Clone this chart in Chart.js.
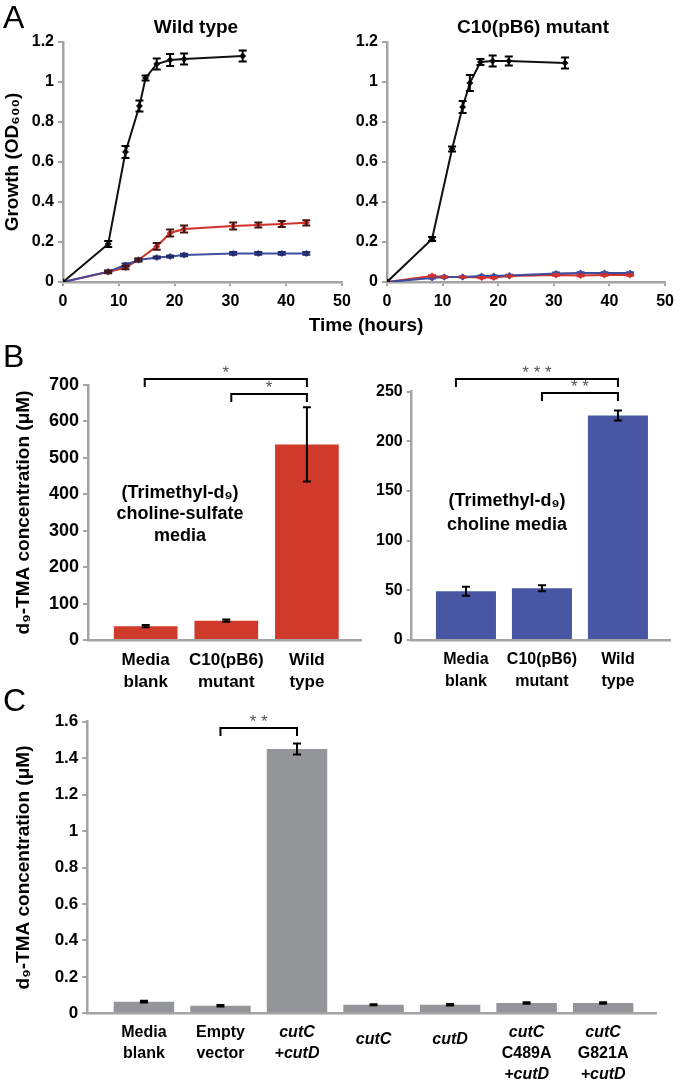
<!DOCTYPE html>
<html>
<head>
<meta charset="utf-8">
<script src="https://cdn.jsdelivr.net/npm/chart.js@4.4.0/dist/chart.umd.min.js"></script>
<style>
body { margin: 0; background: #fff; }
#wrap { position: relative; width: 680px; height: 1082px; background: #fff; }
#wrap canvas { position: absolute; left: 0; top: 0; }
</style>
</head>
<body>
<div id="wrap">
  <canvas id="growthWT" width="680" height="1082"></canvas>
  <canvas id="growthMut" width="680" height="1082"></canvas>
  <canvas id="sulfateBars" width="680" height="1082"></canvas>
  <canvas id="cholineBars" width="680" height="1082"></canvas>
  <canvas id="geneBars" width="680" height="1082"></canvas>
</div>
<script>
// A: growth, time in hours, OD600
const wtTimeBlack = [0, 8.1, 11.2, 13.7, 14.8, 16.8, 19.2, 21.7, 32.2];
const wtBlack = [0, 0.19, 0.65, 0.88, 1.02, 1.09, 1.11, 1.115, 1.13];
const wtBlackErr = [0, 0.015, 0.03, 0.027, 0.012, 0.027, 0.03, 0.027, 0.027];
const wtTime = [0, 8.1, 11.2, 13.5, 16.8, 19.2, 21.7, 30.5, 35, 39.2, 43.6];
const wtRed = [0, 0.05, 0.072, 0.11, 0.178, 0.245, 0.265, 0.28, 0.285, 0.29, 0.296];
const wtRedErr = [0, 0.006, 0.008, 0.008, 0.017, 0.017, 0.017, 0.017, 0.013, 0.015, 0.013];
const wtBlue = [0, 0.052, 0.085, 0.11, 0.122, 0.128, 0.135, 0.143, 0.143, 0.143, 0.143];
const wtBlueErr = [0, 0.005, 0.007, 0.006, 0.005, 0.005, 0.006, 0.007, 0.007, 0.007, 0.007];

const mutTimeBlack = [0, 8.1, 11.7, 13.6, 14.9, 16.8, 19.0, 21.9, 32];
const mutBlack = [0, 0.215, 0.665, 0.875, 0.995, 1.1, 1.105, 1.105, 1.095];
const mutBlackErr = [0, 0.01, 0.013, 0.03, 0.04, 0.015, 0.027, 0.022, 0.027];
const mutTime = [0, 8.1, 10.3, 13.6, 17, 19.2, 22, 30.4, 34.8, 39.1, 43.7];
const mutRed = [0, 0.03, 0.025, 0.025, 0.022, 0.022, 0.03, 0.035, 0.033, 0.035, 0.035];
const mutRedErr = [0, 0.004, 0.003, 0.003, 0.003, 0.003, 0.003, 0.004, 0.004, 0.004, 0.004];
const mutBlue = [0, 0.02, 0.025, 0.025, 0.03, 0.03, 0.033, 0.043, 0.045, 0.045, 0.045];
const mutBlueErr = [0, 0.003, 0.003, 0.003, 0.003, 0.003, 0.003, 0.004, 0.004, 0.004, 0.004];

// B: d9-TMA (uM)
const bCategories = [['Media', 'blank'], ['C10(pB6)', 'mutant'], ['Wild', 'type']];
const sulfateTMA = [38, 53, 537];
const sulfateTMAErr = [3, 3, 102];
const sulfateSig = [[0, 2, '*'], [1, 2, '*']];
const cholineTMA = [49, 52, 226];
const cholineTMAErr = [4.5, 3, 5];
const cholineSig = [[0, 2, '* * *'], [1, 2, '* *']];

// C: d9-TMA (uM)
const cCategories = [['Media', 'blank'], ['Empty', 'vector'], ['cutC', '+cutD'], ['cutC'], ['cutD'],
  ['cutC', 'C489A', '+cutD'], ['cutC', 'G821A', '+cutD']];
const geneTMA = [0.064, 0.041, 1.45, 0.047, 0.047, 0.056, 0.056];
const geneTMAErr = [0.005, 0.004, 0.03, 0.003, 0.004, 0.004, 0.004];
const geneSig = [[1, 2, '* *']];

const FONT = '"Liberation Sans", Arial, "DejaVu Sans", sans-serif';
const GREY = '#a4a4a4';
const BLACK = '#111111', RED = '#d2302b', BLUE = '#3d4d9f';

function fmt(v) { return String(Number(v.toFixed(2))); }

const errorBars = {
  id: 'errorBars',
  afterDatasetsDraw(chart) {
    const ctx = chart.ctx, ys = chart.scales.y;
    chart.data.datasets.forEach((ds, i) => {
      if (!ds.errors) return;
      chart.getDatasetMeta(i).data.forEach((el, j) => {
        const e = ds.errors[j];
        if (!e) return;
        const d = ds.data[j];
        const v = typeof d === 'object' ? d.y : d;
        const top = ys.getPixelForValue(v + e), bot = ys.getPixelForValue(v - e);
        ctx.save();
        ctx.strokeStyle = ds.errorColor || '#000';
        ctx.lineWidth = 2;
        ctx.beginPath();
        ctx.moveTo(el.x, top); ctx.lineTo(el.x, bot);
        ctx.moveTo(el.x - 4, top); ctx.lineTo(el.x + 4, top);
        ctx.moveTo(el.x - 4, bot); ctx.lineTo(el.x + 4, bot);
        ctx.stroke();
        ctx.restore();
      });
    });
  }
};

function texts(items) {
  return {
    id: 'texts',
    afterDraw(chart) {
      const ctx = chart.ctx;
      items.forEach(t => {
        ctx.save();
        ctx.font = t.font;
        ctx.fillStyle = '#000';
        ctx.textAlign = t.align || 'center';
        ctx.textBaseline = t.baseline || 'middle';
        ctx.fillText(t.text, t.x, t.y);
        ctx.restore();
      });
    }
  };
}

function categoryLabels(labels, top, lineHeight, size, singleShift) {
  return {
    id: 'categoryLabels',
    afterDraw(chart) {
      const ctx = chart.ctx, xs = chart.scales.x;
      ctx.save();
      ctx.fillStyle = '#000';
      ctx.textAlign = 'center';
      ctx.textBaseline = 'middle';
      labels.forEach((lines, i) => {
        const px = xs.getPixelForValue(i);
        const y0 = top + (lines.length === 1 ? singleShift : 0);
        lines.forEach((line, k) => {
          ctx.font = (/cut/.test(line) ? 'italic ' : '') + 'bold ' + size + 'px ' + FONT;
          ctx.fillText(line, px, y0 + k * lineHeight);
        });
      });
      ctx.restore();
    }
  };
}

function brackets(sig, levels) {
  return {
    id: 'brackets',
    afterDraw(chart) {
      const ctx = chart.ctx, xs = chart.scales.x;
      ctx.save();
      sig.forEach(([a, b, stars], k) => {
        const lv = levels[k];
        const xa = xs.getPixelForValue(a) + (lv.dx || 0), xb = xs.getPixelForValue(b);
        ctx.strokeStyle = '#000';
        ctx.lineWidth = 2;
        ctx.beginPath();
        ctx.moveTo(xa, lv.y + 8); ctx.lineTo(xa, lv.y); ctx.lineTo(xb, lv.y); ctx.lineTo(xb, lv.y + 8);
        ctx.stroke();
        ctx.fillStyle = '#555';
        ctx.font = '17px ' + FONT;
        ctx.textAlign = 'center';
        ctx.textBaseline = 'alphabetic';
        ctx.fillText(stars, (xa + xb) / 2, lv.y - 1);
      });
      ctx.restore();
    }
  };
}

function lineSet(times, values, errors, color, errorColor) {
  return {
    data: times.map((t, i) => ({x: t, y: values[i]})),
    errors: errors,
    errorColor: errorColor,
    borderColor: color,
    backgroundColor: color,
    borderWidth: 2,
    pointStyle: 'rectRot',
    pointRadius: 3.5,
    pointBorderWidth: 0,
    tension: 0
  };
}

function tickFont(size) { return {family: FONT, size: size, weight: 'bold'}; }

function growthOptions(yWidth, padding, yTitle) {
  return {
    responsive: false,
    animation: false,
    layout: {padding: padding},
    plugins: {legend: {display: false}, tooltip: {enabled: false}},
    scales: {
      x: {
        type: 'linear', min: 0, max: 50,
        ticks: {stepSize: 10, font: tickFont(16), color: '#000', padding: 6},
        grid: {drawOnChartArea: false, tickLength: 4, color: GREY, lineWidth: 2},
        border: {color: GREY, width: 2.5},
        afterFit: s => { s.height = 40; }
      },
      y: {
        min: 0, max: 1.2,
        ticks: {stepSize: 0.2, font: tickFont(16), color: '#000', padding: 4, callback: fmt},
        grid: {drawOnChartArea: false, tickLength: 5, color: GREY, lineWidth: 2},
        border: {color: GREY, width: 2.5},
        title: {display: !!yTitle, text: yTitle || '', color: '#000',
          font: {family: FONT, size: 19, weight: 'bold'}, padding: {top: 1, bottom: 0}},
        afterFit: s => { s.width = yWidth; }
      }
    }
  };
}

function barOptions(nCat, xMin, xMax, yMax, yStep, yWidth, padding, tickSize, yTitle) {
  return {
    responsive: false,
    animation: false,
    layout: {padding: padding},
    plugins: {legend: {display: false}, tooltip: {enabled: false}},
    scales: {
      x: {
        type: 'linear', min: xMin, max: xMax, offset: false,
        afterBuildTicks: s => { s.ticks = Array.from({length: nCat}, (_, i) => ({value: i})); },
        ticks: {display: false},
        grid: {display: false, drawTicks: false},
        border: {color: GREY, width: 2.5},
        afterFit: s => { s.height = 0; }
      },
      y: {
        min: 0, max: yMax,
        ticks: {stepSize: yStep, font: tickFont(tickSize), color: '#000', padding: 4, callback: fmt},
        grid: {drawOnChartArea: false, tickLength: 5, color: GREY, lineWidth: 2},
        border: {color: GREY, width: 2.5},
        title: {display: !!yTitle, text: yTitle || '', color: '#000',
          font: {family: FONT, size: 19, weight: 'bold'}, padding: {top: 12, bottom: 0}},
        afterFit: s => { s.width = yWidth; }
      }
    }
  };
}

function barSet(values, errors, color) {
  return {
    data: values.map((v, i) => ({x: i, y: v})),
    errors: errors,
    backgroundColor: color,
    borderWidth: 0,
    barPercentage: 0.79,
    categoryPercentage: 1
  };
}

const TMA_TITLE = 'd\u2089-TMA concentration (\u03bcM)';

// A, wild type
new Chart(document.getElementById('growthWT'), {
  type: 'line',
  data: {datasets: [
    lineSet(wtTimeBlack, wtBlack, wtBlackErr, BLACK, '#000'),
    lineSet(wtTime, wtBlue, wtBlueErr, BLUE, '#1f2a66'),
    lineSet(wtTime, wtRed, wtRedErr, RED, '#4a1410')
  ]},
  options: growthOptions(63, {left: 0, top: 42, right: 338, bottom: 760}, 'Growth (OD\u2086\u2080\u2080)'),
  plugins: [errorBars, texts([
    {text: 'A', x: 3, y: 28, font: '32px ' + FONT, align: 'left', baseline: 'alphabetic'},
    {text: 'Wild type', x: 196, y: 28, font: 'bold 19px ' + FONT},
    {text: 'Time (hours)', x: 366, y: 326, font: 'bold 19px ' + FONT}
  ])]
});

// A, C10(pB6) mutant
new Chart(document.getElementById('growthMut'), {
  type: 'line',
  data: {datasets: [
    lineSet(mutTimeBlack, mutBlack, mutBlackErr, BLACK, '#000'),
    lineSet(mutTime, mutBlue, mutBlueErr, BLUE, BLUE),
    lineSet(mutTime, mutRed, mutRedErr, RED, RED)
  ]},
  options: growthOptions(40, {left: 347, top: 42, right: 12, bottom: 760}, null),
  plugins: [errorBars, texts([
    {text: 'C10(pB6) mutant', x: 533, y: 28, font: 'bold 19px ' + FONT}
  ])]
});

// B, choline-sulfate media
new Chart(document.getElementById('sulfateBars'), {
  type: 'bar',
  data: {datasets: [barSet(sulfateTMA, sulfateTMAErr, '#cf3a2b')]},
  options: barOptions(3, -0.716, 2.68, 700, 100, 88, {left: 0, top: 385, right: 318.3, bottom: 442}, 18, TMA_TITLE),
  plugins: [errorBars,
    categoryLabels(bCategories, 660, 22, 17, 0),
    brackets(sulfateSig, [{y: 379, dx: -1}, {y: 394, dx: 5}]),
    texts([
      {text: 'B', x: 3, y: 367, font: '32px ' + FONT, align: 'left', baseline: 'alphabetic'},
      {text: '(Trimethyl-d\u2089)', x: 180, y: 493, font: 'bold 18px ' + FONT},
      {text: 'choline-sulfate', x: 180, y: 514, font: 'bold 18px ' + FONT},
      {text: 'media', x: 180, y: 536, font: 'bold 18px ' + FONT}
    ])]
});

// B, choline media
new Chart(document.getElementById('cholineBars'), {
  type: 'bar',
  data: {datasets: [barSet(cholineTMA, cholineTMAErr, '#4856a3')]},
  options: barOptions(3, -0.714, 2.685, 250, 50, 45, {left: 366.7, top: 391.7, right: 10, bottom: 442}, 16, null),
  plugins: [errorBars,
    categoryLabels(bCategories, 660, 22, 16, 0),
    brackets(cholineSig, [{y: 379, dx: -10}, {y: 393, dx: 0}]),
    texts([
      {text: '(Trimethyl-d\u2089)', x: 507, y: 501, font: 'bold 18px ' + FONT},
      {text: 'choline media', x: 507, y: 525, font: 'bold 18px ' + FONT}
    ])]
});

// C, gene constructs
new Chart(document.getElementById('geneBars'), {
  type: 'bar',
  data: {datasets: [barSet(geneTMA, geneTMAErr, '#939598')]},
  options: barOptions(7, -0.74, 6.70, 1.6, 0.2, 87.3, {left: 0, top: 721.7, right: 23.3, bottom: 68.7}, 17, TMA_TITLE),
  plugins: [errorBars,
    categoryLabels(cCategories, 1033, 21, 16, 7),
    brackets(geneSig, [{y: 728, dx: 0}]),
    texts([
      {text: 'C', x: 3, y: 711, font: '32px ' + FONT, align: 'left', baseline: 'alphabetic'}
    ])]
});
</script>
</body>
</html>
